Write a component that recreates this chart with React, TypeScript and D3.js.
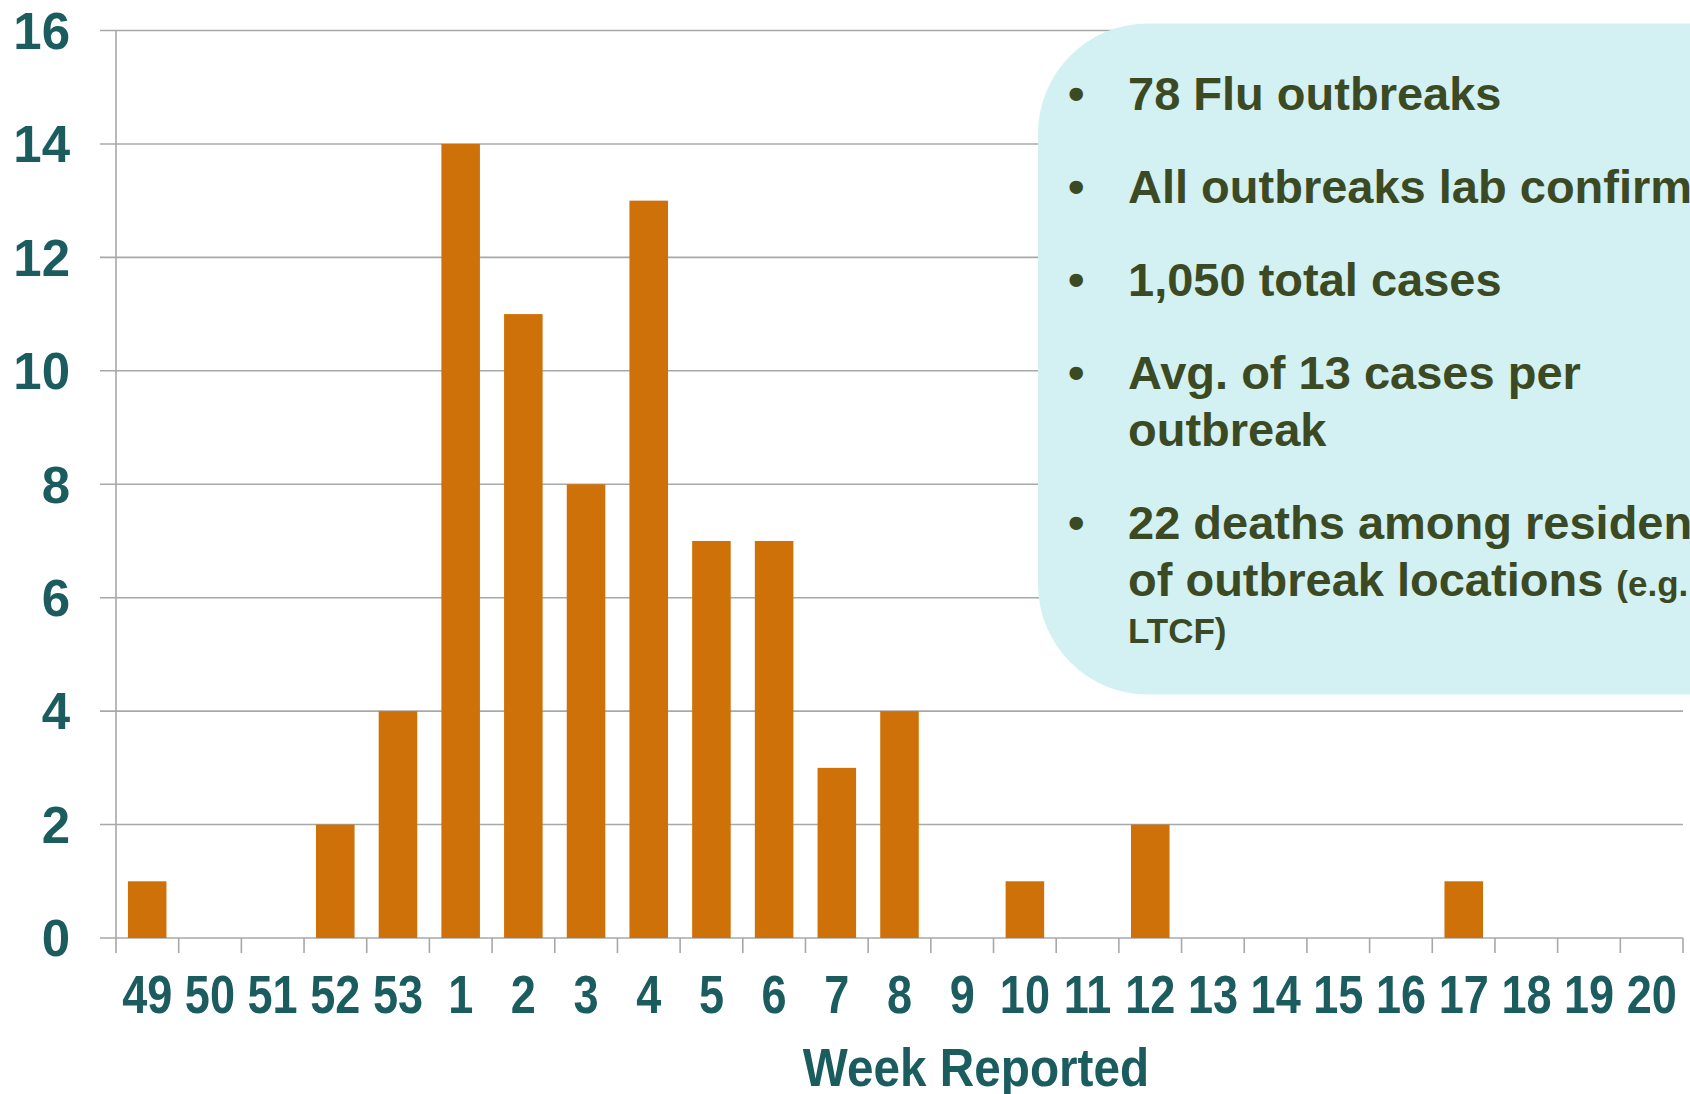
import React, { useEffect, useRef } from 'react'
import * as d3 from 'd3'

const weeks = ['49', '50', '51', '52', '53', '1', '2', '3', '4', '5', '6', '7', '8', '9', '10', '11', '12', '13', '14', '15', '16', '17', '18', '19', '20']
const outbreaks = [1, 0, 0, 2, 4, 14, 11, 8, 13, 7, 7, 3, 4, 0, 1, 0, 2, 0, 0, 0, 0, 1, 0, 0, 0]
const yTicks = [0, 2, 4, 6, 8, 10, 12, 14, 16]

// bullet lines: each bullet is a list of lines, each line a list of [text, small?]
const bullets: [string, boolean][][][] = [
  [[['78 Flu outbreaks', false]]],
  [[['All outbreaks lab confirmed', false]]],
  [[['1,050 total cases', false]]],
  [[['Avg. of 13 cases per', false]], [['outbreak', false]]],
  [
    [['22 deaths among residents', false]],
    [['of outbreak locations ', false], ['(e.g.', true]],
    [['LTCF)', true]],
  ],
]

const FluOutbreaks = () => {
  const svgRef = useRef<SVGSVGElement>(null)

  useEffect(() => {
    const svg = d3.select(svgRef.current)
    svg.selectAll('*').remove()

    const width = 1690
    const height = 1094
    const left = 116
    const right = 1683
    const top = 30.5
    const bottom = 938

    const teal = '#1b5c5f'
    const gridColor = '#a8a8a8'

    const x = d3.scaleBand().domain(weeks).range([left, right]).paddingInner(0.385).paddingOuter(0.19)
    const xEdges = d3.scaleLinear().domain([0, weeks.length]).range([left, right])
    const y = d3.scaleLinear().domain([0, 16]).range([bottom, top])

    svg.attr('width', width).attr('height', height)

    // gridlines + y tick marks
    svg.append('g')
      .selectAll('line')
      .data(yTicks)
      .join('line')
      .attr('x1', 100)
      .attr('x2', right)
      .attr('y1', d => y(d))
      .attr('y2', d => y(d))
      .attr('stroke', gridColor)
      .attr('stroke-width', 1.6)

    // y axis line
    svg.append('line')
      .attr('x1', left).attr('x2', left)
      .attr('y1', top).attr('y2', bottom + 15)
      .attr('stroke', gridColor).attr('stroke-width', 1.6)

    // x tick marks at band edges
    svg.append('g')
      .selectAll('line')
      .data(d3.range(1, weeks.length + 1))
      .join('line')
      .attr('x1', d => xEdges(d))
      .attr('x2', d => xEdges(d))
      .attr('y1', bottom)
      .attr('y2', bottom + 15)
      .attr('stroke', gridColor)
      .attr('stroke-width', 1.6)

    // bars
    svg.append('g')
      .selectAll('rect')
      .data(outbreaks)
      .join('rect')
      .attr('x', (d, i) => x(weeks[i])!)
      .attr('width', x.bandwidth())
      .attr('y', d => y(d))
      .attr('height', d => bottom - y(d))
      .attr('fill', '#cf7109')

    // y labels
    svg.append('g')
      .style('font', 'bold 51px "Liberation Sans", Arial, sans-serif')
      .attr('fill', teal)
      .attr('text-anchor', 'end')
      .selectAll('text')
      .data(yTicks)
      .join('text')
      .attr('x', 70)
      .attr('y', d => y(d))
      .attr('dy', '0.36em')
      .text(d => d)

    // x labels (condensed)
    svg.append('g')
      .style('font', 'bold 53px "Liberation Sans", Arial, sans-serif')
      .attr('fill', teal)
      .attr('text-anchor', 'middle')
      .selectAll('text')
      .data(weeks)
      .join('text')
      .attr('transform', d => `translate(${x(d)! + x.bandwidth() / 2},1013) scale(0.85,1)`)
      .text(d => d)

    svg.append('text')
      .attr('transform', 'translate(976,1086) scale(0.9,1)')
      .attr('text-anchor', 'middle')
      .style('font', 'bold 53px "Liberation Sans", Arial, sans-serif')
      .attr('fill', teal)
      .text('Week Reported')

    // info box
    svg.append('rect')
      .attr('x', 1038)
      .attr('y', 23.5)
      .attr('width', 800)
      .attr('height', 671)
      .attr('rx', 110)
      .attr('fill', '#d3f1f3')

    const textColor = '#3c4a24'
    const box = svg.append('g')
      .attr('fill', textColor)
      .style('font-family', '"Liberation Sans", Arial, sans-serif')
      .style('font-weight', 'bold')

    let baseline = 110
    bullets.forEach(lines => {
      box.append('text')
        .attr('x', 1068)
        .attr('y', baseline)
        .style('font-size', '47px')
        .text('•')
      let lineY = baseline
      lines.forEach((parts, li) => {
        if (li > 0) lineY += parts.every(p => p[1]) ? 47 : 57
        const t = box.append('text')
          .attr('x', 1128)
          .attr('y', lineY)
        parts.forEach(([s, small]) => {
          t.append('tspan')
            .style('font-size', small ? '35px' : '47px')
            .text(s)
        })
      })
      baseline = lineY + 93
    })
  }, [])

  return <svg ref={svgRef} style={{ position: 'absolute', left: 0, top: 0, display: 'block' }} />
}

export default function App() {
  return <FluOutbreaks />
}
